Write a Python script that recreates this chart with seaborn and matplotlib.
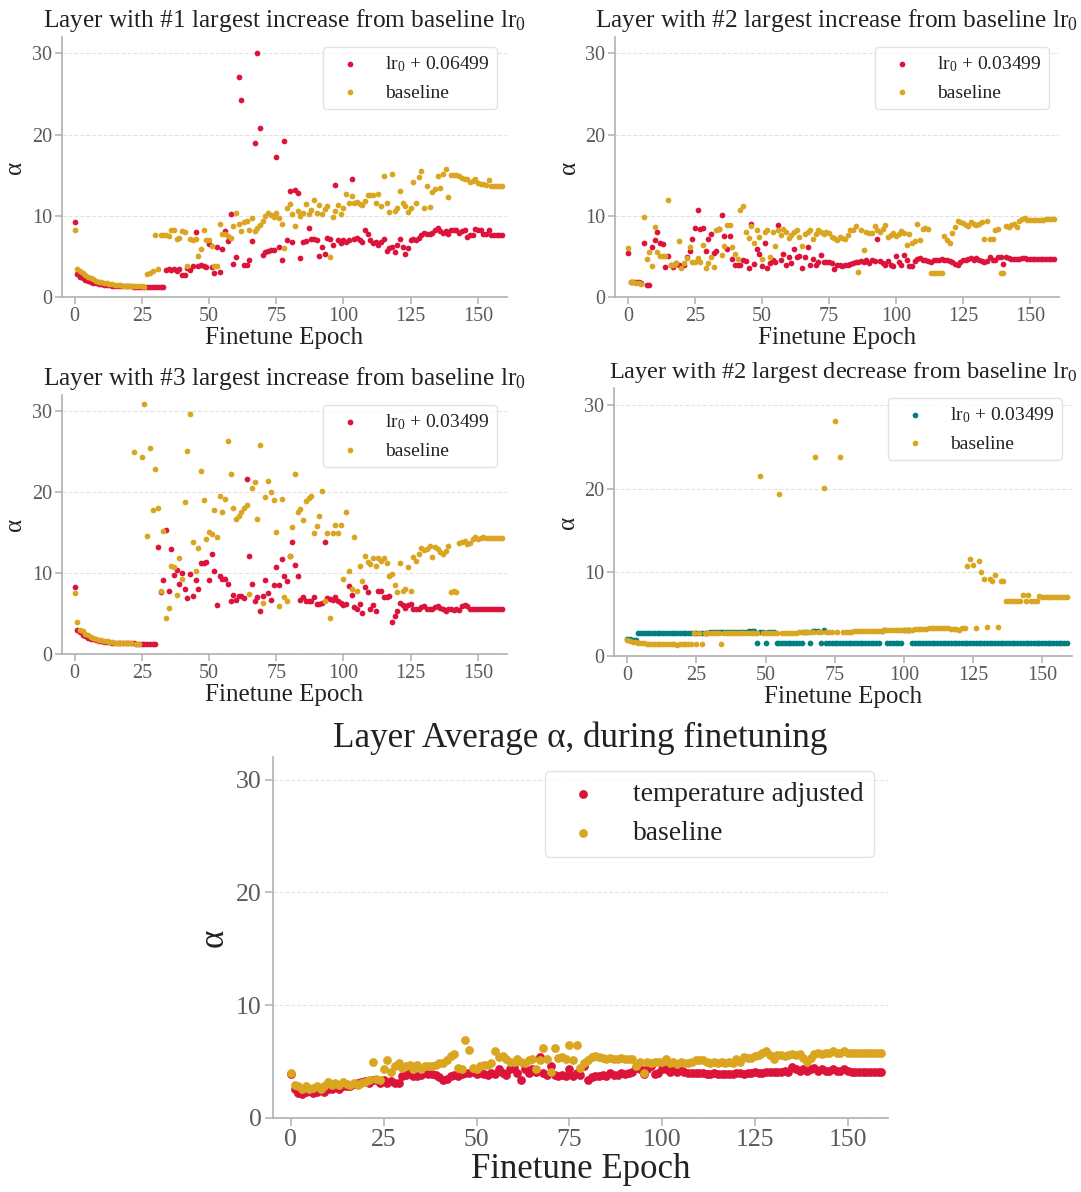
import numpy as np
import pandas as pd
import matplotlib
matplotlib.use("Agg")
import matplotlib.pyplot as plt
import seaborn as sns

epochs = list(range(160))

# Panel 1: layer with #1 largest increase
p1_lr = [9.2, 2.8, 2.5, 2.3, 2.1, 2.0, 1.85, 1.75, 1.7, 1.6,
         1.55, 1.5, 1.5, 1.45, 1.4, 1.4, 1.35, 1.35, 1.3, 1.3,
         1.3, 1.3, 1.25, 1.25, 1.25, 1.25, 1.2, 1.2, 1.2, 1.2,
         1.2, 1.2, 1.2, 1.2, 3.3, 3.5, 3.3, 3.4, 3.2, 3.4,
         2.7, 2.7, 3.6, 3.3, 3.8, 8.0, 3.8, 4.0, 3.8, 3.7,
         6.5, 3.7, 3.0, 6.1, 3.1, 5.9, 8.1, 6.9, 10.2, 4.1,
         4.9, 27.1, 24.2, 3.9, 3.9, 4.5, 6.9, 19.0, 30.0, 20.8,
         5.2, 5.5, 5.7, 5.8, 5.8, 17.2, 6.2, 4.6, 19.2, 7.0,
         13.0, 6.8, 13.2, 12.8, 4.8, 6.8, 6.9, 8.5, 7.1, 7.1,
         7.0, 5.0, 6.1, 5.3, 7.3, 7.1, 6.4, 13.8, 7.0, 6.7,
         7.0, 6.8, 7.0, 14.5, 7.2, 7.3, 7.0, 6.8, 8.2, 7.8,
         7.0, 6.6, 6.8, 6.4, 6.8, 7.1, 5.7, 6.0, 6.2, 5.6,
         6.4, 7.1, 6.2, 5.3, 6.0, 7.0, 7.1, 7.0, 7.3, 7.6,
         7.9, 7.8, 7.7, 7.9, 8.2, 8.5, 8.1, 7.9, 8.1, 7.8,
         8.3, 8.2, 8.3, 7.9, 8.1, 8.2, 7.4, 7.6, 7.6, 8.4,
         8.3, 8.3, 7.7, 7.7, 8.3, 7.6, 7.6, 7.6, 7.6, 7.6]
p1_base = [8.3, 3.5, 3.2, 3.0, 2.7, 2.5, 2.3, 2.2, 2.0, 1.9,
           1.8, 1.75, 1.7, 1.6, 1.55, 1.5, 1.5, 1.45, 1.4, 1.4,
           1.35, 1.35, 1.3, 1.3, 1.3, 1.3, 1.25, 2.8, 3.0, 3.2,
           7.6, 3.5, 7.6, 7.6, 7.6, 7.5, 8.2, 8.2, 7.2, 7.3,
           8.1, 8.0, 3.8, 7.1, 7.0, 7.2, 5.1, 5.9, 8.2, 7.0,
           7.0, 6.3, 3.8, 3.8, 9.0, 7.8, 7.7, 7.5, 7.3, 8.8,
           10.3, 9.0, 8.1, 9.2, 9.4, 8.2, 9.7, 8.1, 8.5, 8.9,
           9.4, 10.0, 10.3, 10.1, 9.8, 10.4, 9.7, 9.0, 6.0, 11.0,
           11.4, 10.2, 8.8, 10.6, 10.0, 10.4, 11.4, 10.2, 10.7, 12.0,
           10.4, 11.3, 10.2, 10.8, 11.2, 4.9, 9.8, 10.6, 11.3, 10.2,
           10.9, 12.7, 11.6, 12.4, 11.6, 11.7, 11.5, 11.3, 11.8, 12.6,
           12.6, 12.6, 11.6, 12.7, 11.2, 14.9, 11.6, 10.5, 15.1, 10.6,
           10.9, 13.0, 11.6, 11.2, 10.5, 11.0, 14.1, 11.6, 14.8, 15.5,
           11.0, 13.7, 11.1, 12.9, 13.3, 14.9, 13.4, 15.1, 15.8, 12.3,
           15.0, 15.0, 15.0, 14.9, 14.6, 14.5, 14.5, 14.2, 14.3, 14.5,
           14.0, 13.9, 13.9, 13.8, 14.4, 13.7, 13.7, 13.7, 13.7, 13.7]

# Panel 2: layer with #2 largest increase
p2_lr = [5.4, 1.85, 1.85, 1.8, 1.8, 1.75, 6.7, 1.45, 1.45, 6.2,
         7.0, 8.0, 6.7, 6.5, 3.7, 5.1, 4.0, 3.7, 4.2, 3.9,
         3.8, 4.0, 4.9, 5.7, 7.2, 8.5, 10.7, 8.4, 8.5, 5.7,
         7.2, 7.8, 5.4, 5.7, 8.4, 10.1, 7.5, 5.9, 7.5, 4.7,
         4.0, 3.9, 4.0, 4.6, 4.4, 3.6, 9.0, 4.1, 5.9, 5.3,
         3.8, 6.6, 3.6, 4.2, 4.5, 4.3, 8.9, 4.5, 5.3, 4.0,
         4.9, 4.2, 5.9, 4.9, 5.1, 3.6, 4.9, 6.2, 4.0, 4.7,
         4.0, 4.3, 5.2, 4.3, 4.3, 4.3, 4.2, 3.5, 4.0, 3.9,
         3.8, 3.9, 4.0, 4.1, 4.2, 4.3, 4.3, 4.4, 4.3, 4.5,
         4.2, 4.5, 4.4, 7.1, 4.4, 4.2, 3.9, 4.4, 3.9, 3.8,
         5.1, 4.3, 4.0, 5.2, 4.5, 3.8, 3.8, 4.4, 4.7, 4.8,
         4.6, 4.5, 4.4, 4.3, 4.5, 4.6, 4.5, 4.7, 4.6, 4.5,
         4.4, 4.3, 4.1, 4.0, 4.3, 4.5, 4.6, 4.7, 4.8, 4.6,
         4.8, 4.6, 4.4, 4.3, 4.4, 4.9, 4.5, 4.6, 4.9, 4.9,
         4.1, 4.9, 4.8, 4.7, 4.7, 4.7, 4.7, 4.8, 4.8, 4.7,
         4.7, 4.7, 4.7, 4.7, 4.7, 4.7, 4.7, 4.7, 4.7, 4.7]
p2_base = [6.0, 1.8, 1.8, 1.75, 1.7, 1.65, 9.8, 4.7, 5.6, 3.8,
           8.6, 5.5, 5.0, 5.0, 5.1, 12.0, 3.9, 4.0, 4.2, 6.9,
           3.6, 4.2, 4.8, 6.1, 4.3, 4.3, 4.8, 4.3, 6.4, 3.6,
           4.2, 4.9, 3.7, 8.2, 8.4, 5.2, 6.3, 8.9, 8.9, 6.2,
           5.3, 4.7, 10.7, 11.2, 8.0, 7.3, 8.8, 6.7, 8.2, 7.4,
           4.7, 8.0, 8.2, 4.9, 8.0, 6.3, 8.2, 7.6, 8.4, 8.0,
           7.3, 7.6, 8.0, 8.2, 7.4, 6.3, 7.7, 8.0, 8.2, 7.2,
           7.7, 8.2, 8.0, 7.8, 8.0, 7.9, 7.4, 7.3, 7.0, 7.4,
           7.3, 7.1, 7.6, 8.3, 8.2, 8.8, 3.1, 8.2, 5.8, 8.0,
           7.9, 7.9, 8.8, 8.3, 8.0, 8.4, 8.9, 7.4, 7.6, 7.9,
           7.5, 7.7, 8.1, 7.9, 6.4, 7.8, 6.7, 6.9, 9.0, 7.0,
           8.4, 8.5, 8.4, 2.9, 2.9, 3.0, 2.9, 2.9, 7.5, 7.0,
           6.6, 7.9, 8.6, 9.3, 9.2, 9.1, 8.9, 8.8, 9.2, 9.0,
           8.9, 9.0, 9.2, 7.1, 9.4, 7.1, 7.1, 8.2, 8.4, 3.0,
           2.9, 8.7, 8.6, 8.9, 9.0, 8.6, 9.4, 9.6, 9.7, 9.5,
           9.5, 9.5, 9.5, 9.5, 9.5, 9.5, 9.6, 9.6, 9.6, 9.6]

# Panel 3: layer with #3 largest increase
p3_lr = [8.3, 3.0, 2.7, 2.4, 2.2, 2.0, 1.9, 1.8, 1.7, 1.6,
         1.55, 1.5, 1.5, 1.45, 1.4, 1.4, 1.35, 1.35, 1.3, 1.3,
         1.3, 1.3, 1.3, 1.25, 1.25, 1.25, 1.25, 1.2, 1.2, 1.2,
         1.2, 13.2, 7.6, 9.1, 15.3, 7.8, 13.0, 9.8, 10.4, 8.7,
         10.0, 8.0, 6.9, 9.9, 7.2, 9.2, 8.0, 11.2, 11.3, 11.4,
         9.2, 12.3, 10.2, 6.1, 9.6, 9.3, 9.3, 8.6, 6.6, 7.3,
         6.7, 7.2, 7.2, 6.9, 21.6, 12.1, 8.7, 6.5, 7.0, 5.3,
         7.2, 9.1, 7.5, 6.7, 8.5, 10.8, 8.5, 11.7, 9.6, 9.0,
         12.1, 13.8, 11.0, 9.6, 6.7, 7.0, 6.6, 6.6, 6.6, 7.1,
         6.2, 6.2, 6.3, 13.8, 6.9, 6.8, 6.7, 7.1, 6.5, 6.3,
         6.1, 6.2, 8.4, 7.3, 5.8, 5.6, 6.2, 5.1, 8.3, 7.7,
         5.5, 6.1, 5.3, 7.8, 7.8, 7.0, 7.0, 7.2, 4.0, 4.7,
         5.3, 6.3, 6.0, 5.7, 6.1, 6.2, 5.5, 5.5, 5.5, 5.8,
         5.9, 5.5, 5.6, 5.5, 5.8, 5.9, 5.7, 5.5, 5.3, 5.5,
         5.5, 5.4, 5.5, 5.4, 5.9, 6.0, 5.9, 5.6, 5.6, 5.6,
         5.6, 5.6, 5.6, 5.6, 5.6, 5.6, 5.6, 5.6, 5.6, 5.6]
p3_base = [7.5, 4.0, 3.0, 2.8, 2.5, 2.3, 2.1, 2.0, 1.85, 1.75,
           1.7, 1.6, 1.55, 1.5, 1.45, 1.4, 1.4, 1.35, 1.35, 1.3,
           1.3, 1.3, 24.9, 1.25, 1.25, 24.3, 30.9, 14.6, 25.5, 17.8,
           22.8, 18.1, 7.8, 15.2, 4.4, 5.7, 10.9, 10.8, 7.3, 11.9,
           9.3, 18.8, 25.1, 29.7, 13.8, 10.2, 13.1, 22.6, 19.0, 14.2,
           15.1, 14.8, 17.8, 14.4, 19.5, 17.6, 19.2, 26.3, 22.2, 18.1,
           16.7, 17.0, 17.6, 18.1, 18.4, 7.4, 20.5, 21.3, 16.7, 25.8,
           6.3, 19.4, 21.4, 20.0, 19.0, 15.1, 5.9, 19.1, 7.0, 6.6,
           12.1, 15.7, 22.3, 17.6, 17.9, 16.5, 18.9, 19.3, 19.5, 15.0,
           15.8, 17.1, 20.1, 6.5, 15.0, 4.4, 15.0, 16.0, 15.0, 16.0,
           9.3, 17.6, 10.3, 8.0, 14.5, 7.8, 10.9, 9.0, 12.1, 11.4,
           11.1, 11.9, 10.9, 11.8, 11.5, 11.8, 11.3, 9.6, 9.9, 8.5,
           7.6, 11.2, 7.8, 8.0, 10.8, 7.8, 12.0, 11.5, 12.4, 13.1,
           12.8, 13.0, 13.3, 12.0, 13.2, 13.0, 12.6, 12.3, 12.7, 13.4,
           7.6, 7.8, 7.6, 13.7, 13.8, 14.0, 13.6, 13.7, 14.2, 14.4,
           14.2, 14.3, 14.4, 14.3, 14.3, 14.3, 14.3, 14.3, 14.3, 14.3]

# Panel 4: layer with #2 largest decrease
p4_lr = [2.0, 2.0, 1.95, 1.9, 2.8, 2.8, 2.8, 2.8, 2.8, 2.8,
         2.8, 2.8, 2.8, 2.8, 2.8, 2.8, 2.8, 2.8, 2.8, 2.8,
         2.8, 2.8, 2.8, 2.8, 2.8, 2.8, 2.8, 2.8, 2.8, 2.8,
         2.9, 2.9, 2.9, 2.9, 2.9, 2.9, 2.9, 2.9, 2.9, 2.9,
         2.9, 2.9, 2.9, 2.9, 3.0, 3.0, 3.0, 1.5, 2.9, 2.9,
         1.5, 2.9, 2.9, 2.9, 1.5, 1.5, 1.5, 1.5, 1.5, 1.5,
         1.5, 1.5, 1.5, 1.5, 2.9, 2.9, 1.5, 3.0, 3.0, 3.0,
         1.5, 3.1, 1.5, 1.5, 1.5, 1.5, 1.5, 1.5, 1.5, 1.5,
         1.5, 1.5, 1.5, 1.5, 1.5, 1.5, 1.5, 1.5, 1.5, 1.5,
         1.5, 1.5, 3.0, 3.1, 1.5, 1.5, 1.5, 1.5, 1.5, 1.5,
         3.1, 3.1, 3.1, 1.5, 1.5, 1.5, 1.5, 1.5, 1.5, 1.5,
         1.5, 1.5, 1.5, 1.5, 1.5, 1.5, 1.5, 1.5, 1.5, 1.5,
         1.5, 1.5, 1.5, 1.5, 1.5, 1.5, 1.5, 1.5, 1.5, 1.5,
         1.5, 1.5, 1.5, 1.5, 1.5, 1.5, 1.5, 1.5, 1.5, 1.5,
         1.5, 1.5, 1.5, 1.5, 1.5, 1.5, 1.5, 1.5, 1.5, 1.5,
         1.5, 1.5, 1.5, 1.5, 1.5, 1.5, 1.5, 1.5, 1.5, 1.5]
p4_base = [1.9, 1.8, 1.7, 1.65, 1.6, 1.55, 1.5, 1.45, 1.4, 1.4,
           1.4, 1.4, 1.4, 1.4, 1.4, 1.4, 1.4, 1.4, 1.35, 1.4,
           1.4, 1.4, 1.4, 1.4, 2.8, 1.4, 2.8, 1.4, 2.8, 2.8,
           2.8, 2.8, 2.8, 2.8, 1.4, 2.8, 2.8, 2.8, 2.8, 2.8,
           2.8, 2.8, 2.8, 2.8, 2.8, 2.8, 2.8, 2.8, 21.5, 2.8,
           2.8, 2.8, 2.8, 2.8, 2.8, 19.4, 2.8, 2.8, 2.8, 2.8,
           2.8, 2.8, 2.85, 2.85, 2.85, 2.85, 2.85, 2.85, 23.8, 2.9,
           2.9, 20.1, 2.9, 2.9, 2.9, 28.1, 2.9, 23.8, 2.9, 2.9,
           2.9, 2.9, 2.95, 2.95, 2.95, 2.95, 3.0, 3.0, 3.0, 3.0,
           3.0, 3.0, 3.0, 3.05, 3.05, 3.05, 3.1, 3.1, 3.1, 3.1,
           3.1, 3.1, 3.15, 3.15, 3.2, 3.2, 3.25, 3.25, 3.25, 3.3,
           3.3, 3.3, 3.3, 3.3, 3.35, 3.3, 3.3, 3.25, 3.2, 3.2,
           3.15, 3.3, 3.3, 10.8, 11.6, 10.9, 3.3, 11.4, 10.0, 9.2,
           3.5, 9.2, 8.9, 9.7, 3.5, 9.0, 8.9, 6.6, 6.6, 6.6,
           6.6, 6.6, 6.6, 7.3, 6.6, 7.3, 6.6, 6.6, 6.6, 7.2,
           7.1, 7.1, 7.1, 7.1, 7.1, 7.1, 7.1, 7.1, 7.1, 7.1]

# Panel 5: layer average alpha
p5_temp = [3.9, 2.6, 2.25, 2.1, 2.3, 2.4, 2.25, 2.3, 2.5, 2.3,
           2.6, 2.55, 2.8, 2.6, 2.8, 2.8, 2.85, 3.0, 3.1, 3.2,
           3.3, 3.1, 3.4, 3.4, 3.1, 3.4, 3.1, 3.3, 3.1, 3.1,
           3.7, 3.8, 4.0, 3.7, 3.7, 3.8, 4.0, 3.9, 3.9, 3.8,
           3.6, 3.4, 3.5, 3.7, 3.8, 3.7, 3.9, 4.0, 4.0, 4.1,
           3.9, 4.0, 3.9, 3.8, 4.0, 3.9, 4.3, 4.0, 3.8, 4.3,
           4.4, 4.0, 3.4, 4.3, 4.0, 4.3, 4.1, 5.4, 4.0, 3.8,
           4.6, 3.8, 3.7, 3.8, 3.7, 4.3, 3.7, 4.0, 3.8, 4.6,
           3.4, 3.6, 3.7, 3.7, 3.8, 3.7, 4.0, 3.8, 3.8, 4.0,
           3.9, 4.0, 4.1, 4.4, 4.3, 3.9, 4.3, 4.6, 3.9, 4.0,
           4.3, 4.3, 4.1, 4.3, 4.1, 4.3, 4.1, 4.0, 4.0, 4.0,
           4.0, 4.0, 3.9, 3.9, 4.0, 3.9, 3.9, 3.9, 3.9, 3.9,
           4.0, 4.0, 3.9, 4.0, 4.0, 4.1, 4.0, 4.0, 4.1, 4.1,
           4.1, 4.1, 4.1, 4.2, 4.1, 4.5, 4.3, 4.2, 4.3, 4.2,
           4.3, 4.4, 4.2, 4.3, 4.2, 4.2, 4.3, 4.2, 4.2, 4.3,
           4.2, 4.1, 4.1, 4.1, 4.1, 4.1, 4.1, 4.1, 4.1, 4.1]
p5_base = [4.0, 2.9, 2.8, 2.6, 2.8, 2.6, 2.7, 2.8, 2.6, 2.8,
           3.2, 2.9, 3.1, 2.9, 3.2, 3.0, 2.9, 3.1, 2.9, 3.1,
           3.2, 3.4, 5.0, 3.5, 3.4, 4.3, 5.1, 4.1, 4.6, 4.9,
           4.4, 4.6, 4.7, 4.3, 4.7, 4.3, 4.6, 4.6, 4.6, 4.7,
           4.9, 4.9, 5.1, 5.5, 5.7, 4.4, 4.3, 6.9, 6.0, 4.4,
           4.3, 4.6, 4.7, 4.7, 4.9, 5.9, 5.4, 5.5, 5.2, 5.0,
           5.0, 5.2, 5.0, 4.9, 5.1, 5.2, 4.3, 5.1, 6.2, 5.2,
           4.1, 6.2, 5.3, 5.4, 5.2, 6.5, 5.1, 6.5, 4.4, 4.9,
           5.1, 5.4, 5.5, 5.4, 5.3, 5.2, 5.3, 5.2, 5.2, 5.3,
           5.2, 5.2, 5.2, 4.6, 5.0, 4.0, 5.0, 4.9, 5.0, 5.0,
           5.0, 5.2, 4.9, 5.0, 4.8, 5.0, 4.9, 4.9, 5.0, 5.1,
           5.1, 5.1, 5.0, 4.9, 5.0, 4.9, 5.0, 4.9, 5.0, 4.9,
           5.2, 5.0, 5.4, 5.3, 5.3, 5.5, 5.6, 5.8, 5.9, 5.6,
           5.2, 5.6, 5.6, 5.5, 5.6, 5.7, 5.6, 5.7, 5.3, 5.0,
           5.3, 5.7, 5.8, 5.7, 5.8, 5.8, 5.9, 5.8, 5.8, 5.9,
           5.8, 5.8, 5.8, 5.8, 5.8, 5.8, 5.8, 5.8, 5.8, 5.8]

titles = ["Layer with #1 largest increase from baseline lr$_0$",
          "Layer with #2 largest increase from baseline lr$_0$",
          "Layer with #3 largest increase from baseline lr$_0$",
          "Layer with #2 largest decrease from baseline lr$_0$"]
lr_labels = ["lr$_0$ + 0.06499", "lr$_0$ + 0.03499",
             "lr$_0$ + 0.03499", "lr$_0$ + 0.03499"]
main_title = "Layer Average α, during finetuning"
xlabel = "Finetune Epoch"
ylabel = "α"

RED = "#DC143C"
GOLD = "#DAA520"
TEAL = "#008080"

sns.set_style("ticks")
plt.rcParams['font.family'] = ['Liberation Serif', 'DejaVu Serif']
plt.rcParams['mathtext.fontset'] = 'custom'
plt.rcParams['mathtext.rm'] = 'Liberation Serif'
plt.rcParams['mathtext.it'] = 'Liberation Serif:italic'
plt.rcParams['mathtext.bf'] = 'Liberation Serif:bold'

W, H = 1081, 1192
fig = plt.figure(figsize=(W / 100, H / 100), dpi=100)


def box(l, r, t, b):
    return [l / W, 1 - b / H, (r - l) / W, (b - t) / H]


def style(ax, tick_fs, lab_fs, title, title_fs, leg_fs, big=False):
    ax.set_xlim(-4.8, 160.8)
    ax.set_ylim(0, 32)
    ax.set_xticks([0, 25, 50, 75, 100, 125, 150])
    ax.set_yticks([0, 10, 20, 30])
    ax.yaxis.grid(True, linestyle='--', color='#e3e3e3', linewidth=0.8)
    ax.set_axisbelow(True)
    sns.despine(ax=ax)
    for s in ['left', 'bottom']:
        ax.spines[s].set_color('#b0b0b0')
        ax.spines[s].set_linewidth(1.2)
    ax.tick_params(colors='#b0b0b0', labelcolor='#5a5a5a', labelsize=tick_fs,
                   length=5 if not big else 6, width=1.1, pad=2)
    ax.set_xlabel(xlabel, fontsize=lab_fs, color='#222222', labelpad=1)
    ax.set_ylabel(ylabel, fontsize=lab_fs, color='#222222', labelpad=4)
    ax.set_title(title, fontsize=title_fs, color='#222222', pad=7)
    leg = ax.legend(loc='upper right', fontsize=leg_fs, frameon=True)
    leg.get_frame().set_edgecolor('#dddddd')
    for t in leg.get_texts():
        t.set_color('#222222')


panels = [
    (box(61.6, 507, 37, 297), p1_lr, p1_base, RED, 18.3),
    (box(615, 1059, 37, 297), p2_lr, p2_base, RED, 18.3),
    (box(61.6, 507, 395, 654), p3_lr, p3_base, RED, 18.3),
    (box(614, 1072, 388, 656), p4_lr, p4_base, TEAL, 17.6),
]

for i, (rect, lr, base, col, tfs) in enumerate(panels):
    ax = fig.add_axes(rect)
    df = pd.DataFrame({"epoch": epochs, "lr": lr, "base": base})
    sns.scatterplot(data=df, x="epoch", y="lr", color=col, s=17, linewidth=0,
                    label=lr_labels[i], ax=ax)
    sns.scatterplot(data=df, x="epoch", y="base", color=GOLD, s=17, linewidth=0,
                    label="baseline", ax=ax)
    style(ax, 14.5, 18, titles[i], tfs, 14)

ax5 = fig.add_axes(box(273, 888, 757, 1118))
df5 = pd.DataFrame({"epoch": epochs, "temp": p5_temp, "base": p5_base})
sns.scatterplot(data=df5, x="epoch", y="temp", color=RED, s=40, linewidth=0,
                label="temperature adjusted", ax=ax5)
sns.scatterplot(data=df5, x="epoch", y="base", color=GOLD, s=40, linewidth=0,
                label="baseline", ax=ax5)
style(ax5, 18.5, 25, main_title, 25.3, 19.8, big=True)

fig.savefig("out.png", dpi=100)
